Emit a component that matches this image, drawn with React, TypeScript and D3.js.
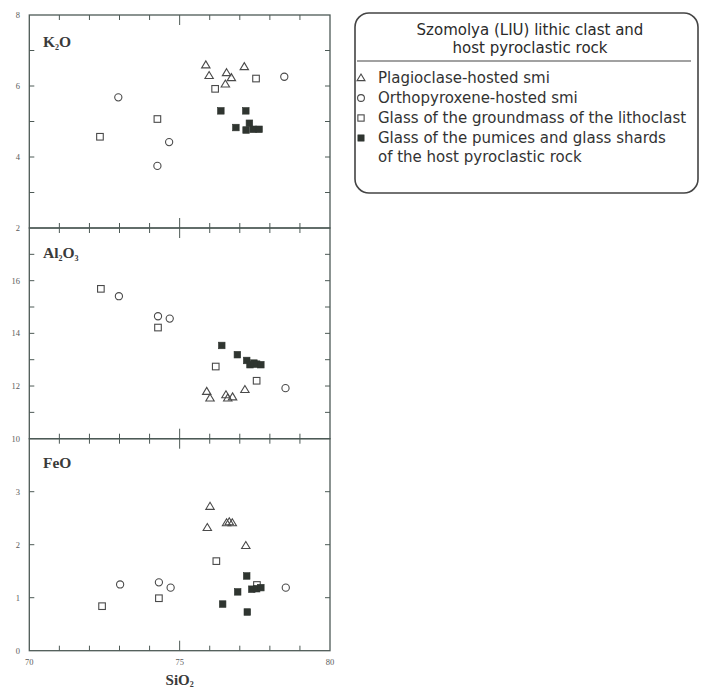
import React from "react";
import * as d3 from "d3";

type P = [number, number];

// K2O panel
const k2oPlag: P[] = [[75.87, 6.59], [75.98, 6.29], [76.56, 6.37], [76.72, 6.23], [76.52, 6.05], [77.15, 6.54]];
const k2oOpx: P[] = [[72.96, 5.68], [74.65, 4.42], [74.26, 3.75], [78.48, 6.26]];
const k2oGlassLith: P[] = [[72.35, 4.57], [74.26, 5.07], [76.18, 5.92], [77.54, 6.21]];
const k2oGlassHost: P[] = [[76.37, 5.3], [77.2, 5.3], [76.87, 4.83], [77.32, 4.95], [77.21, 4.76], [77.45, 4.78], [77.64, 4.78]];

// Al2O3 panel
const alPlag: P[] = [[75.9, 11.79], [76.01, 11.54], [76.54, 11.66], [76.6, 11.54], [76.76, 11.58], [77.17, 11.86]];
const alOpx: P[] = [[72.98, 15.41], [74.28, 14.65], [74.67, 14.56], [78.52, 11.92]];
const alGlassLith: P[] = [[72.38, 15.69], [74.28, 14.22], [76.2, 12.74], [77.56, 12.2]];
const alGlassHost: P[] = [[76.4, 13.54], [76.92, 13.19], [77.23, 12.97], [77.34, 12.81], [77.47, 12.87], [77.56, 12.83], [77.7, 12.81]];

// FeO panel
const feoPlag: P[] = [[76.01, 2.72], [75.92, 2.32], [76.56, 2.41], [76.65, 2.43], [76.75, 2.41], [77.2, 1.98]];
const feoOpx: P[] = [[73.02, 1.25], [74.31, 1.29], [74.7, 1.19], [78.53, 1.19]];
const feoGlassLith: P[] = [[72.42, 0.84], [74.31, 0.99], [76.22, 1.69], [77.57, 1.24]];
const feoGlassHost: P[] = [[77.23, 1.41], [76.93, 1.11], [76.43, 0.88], [77.25, 0.73], [77.4, 1.16], [77.56, 1.17], [77.7, 1.19]];

const xTicks = [71, 72, 73, 74, 75, 76, 77, 78, 79];
const xLabels = [70, 75, 80];

const legendTitle = ["Szomolya (LIU) lithic clast and", "host pyroclastic rock"];
const legendItems = [
  { sym: "tri", lines: ["Plagioclase-hosted smi"] },
  { sym: "circ", lines: ["Orthopyroxene-hosted smi"] },
  { sym: "sq", lines: ["Glass of the groundmass of the lithoclast"] },
  { sym: "fsq", lines: ["Glass of the pumices and glass shards", "of the host pyroclastic rock"] },
];

const FRAME = "#4d5a56";
const MARK = "#4a4a4a";
const FILL = "#2f3530";
const LABEL = "#5a5a5a";

const x = d3.scaleLinear().domain([70, 80]).range([29.3, 330]);

interface PanelDef {
  name: string;
  sub: React.ReactNode;
  domain: [number, number];
  range: [number, number];
  ticks: number[];
  labels: number[];
  data: { plag: P[]; opx: P[]; lith: P[]; host: P[] };
  labelY: number;
}

function Marker({ kind, cx, cy, s = 1 }: { kind: string; cx: number; cy: number; s?: number }) {
  if (kind === "tri") {
    const h = 7 * s, w = 8.4 * s;
    const path = d3.path();
    path.moveTo(cx, cy - h * 0.6);
    path.lineTo(cx + w / 2, cy + h * 0.4);
    path.lineTo(cx - w / 2, cy + h * 0.4);
    path.closePath();
    return <path d={path.toString()} fill="none" stroke={MARK} strokeWidth={1.1} />;
  }
  if (kind === "circ") return <circle cx={cx} cy={cy} r={3.6 * s} fill="none" stroke={MARK} strokeWidth={1.1} />;
  if (kind === "sq") {
    const a = 6.6 * s;
    return <rect x={cx - a / 2} y={cy - a / 2} width={a} height={a} fill="none" stroke={MARK} strokeWidth={1.1} />;
  }
  const a = 6.6 * s;
  return <rect x={cx - a / 2} y={cy - a / 2} width={a} height={a} fill={FILL} stroke={FILL} strokeWidth={0.6} />;
}

function Panel({ p }: { p: PanelDef }) {
  const y = d3.scaleLinear().domain(p.domain).range(p.range);
  const [x0, x1] = x.range();
  const yb = p.range[0], yt = p.range[1];
  const tl = 5;
  return (
    <g>
      <rect x={x0} y={yt} width={x1 - x0} height={yb - yt} fill="none" stroke={FRAME} strokeWidth={1.3} />
      {xTicks.map((t) => {
        const L = t === 75 ? 10 : tl;
        return (
          <g key={t}>
            <line x1={x(t)} x2={x(t)} y1={yb} y2={yb - L} stroke={FRAME} strokeWidth={1} />
            <line x1={x(t)} x2={x(t)} y1={yt} y2={yt + L} stroke={FRAME} strokeWidth={1} />
          </g>
        );
      })}
      {p.ticks.map((t) => (
        <g key={t}>
          <line x1={x0} x2={x0 + tl} y1={y(t)} y2={y(t)} stroke={FRAME} strokeWidth={1} />
          <line x1={x1} x2={x1 - tl} y1={y(t)} y2={y(t)} stroke={FRAME} strokeWidth={1} />
        </g>
      ))}
      {p.labels.map((t) => (
        <text key={t} x={20} y={y(t) + 3} textAnchor="end" fontSize={8.5} fill={LABEL} fontFamily="Liberation Serif, serif">
          {t}
        </text>
      ))}
      <text x={43} y={p.labelY} fontSize={15.5} fontWeight="bold" fill="#3a3a3a" fontFamily="Liberation Serif, serif">
        {p.sub}
      </text>
      {p.data.lith.map((d, i) => <Marker key={"l" + i} kind="sq" cx={x(d[0])} cy={y(d[1])} />)}
      {p.data.opx.map((d, i) => <Marker key={"o" + i} kind="circ" cx={x(d[0])} cy={y(d[1])} />)}
      {p.data.plag.map((d, i) => <Marker key={"p" + i} kind="tri" cx={x(d[0])} cy={y(d[1])} />)}
      {p.data.host.map((d, i) => <Marker key={"h" + i} kind="fsq" cx={x(d[0])} cy={y(d[1])} />)}
    </g>
  );
}

const panels: PanelDef[] = [
  {
    name: "K2O",
    sub: (<><tspan>K</tspan><tspan fontSize={8} dy={3}>2</tspan><tspan dy={-3}>O</tspan></>),
    domain: [2, 8], range: [228, 15], ticks: [3, 4, 5, 6, 7], labels: [2, 4, 6, 8],
    data: { plag: k2oPlag, opx: k2oOpx, lith: k2oGlassLith, host: k2oGlassHost }, labelY: 47,
  },
  {
    name: "Al2O3",
    sub: (<><tspan>Al</tspan><tspan fontSize={8} dy={3}>2</tspan><tspan dy={-3}>O</tspan><tspan fontSize={8} dy={3}>3</tspan></>),
    domain: [10, 18], range: [438.7, 228], ticks: [11, 12, 13, 14, 15, 16, 17], labels: [10, 12, 14, 16],
    data: { plag: alPlag, opx: alOpx, lith: alGlassLith, host: alGlassHost }, labelY: 258,
  },
  {
    name: "FeO",
    sub: "FeO",
    domain: [0, 4], range: [650.7, 438.7], ticks: [1, 2, 3], labels: [0, 1, 2, 3],
    data: { plag: feoPlag, opx: feoOpx, lith: feoGlassLith, host: feoGlassHost }, labelY: 468,
  },
];

export default function App() {
  const lx = 355, ly = 13, lw = 343, lh = 180;
  const LF = "DejaVu Sans, sans-serif";
  return (
    <div style={{ position: "absolute", left: 0, top: 0 }}>
      <svg width={701} height={691} style={{ display: "block", background: "#fff" }}>
        {panels.map((p) => <Panel key={p.name} p={p} />)}
        {xLabels.map((t) => (
          <text key={t} x={x(t)} y={665} textAnchor="middle" fontSize={8.5} fill={LABEL} fontFamily="Liberation Serif, serif">
            {t}
          </text>
        ))}
        <text x={x(75)} y={685} textAnchor="middle" fontSize={15} fontWeight="bold" fill="#3a3a3a" fontFamily="Liberation Serif, serif">
          SiO<tspan fontSize={8} dy={2}>2</tspan>
        </text>

        <rect x={lx} y={ly} width={lw} height={lh} rx={14} ry={14} fill="none" stroke="#444" strokeWidth={1.6} />
        {legendTitle.map((t, i) => (
          <text key={i} x={530} y={35 + i * 18} textAnchor="middle" fontSize={15} fill="#2a2a2a" fontFamily={LF}>
            {t}
          </text>
        ))}
        <line x1={357} x2={691} y1={61} y2={61} stroke="#444" strokeWidth={1.2} />
        {legendItems.map((it, i) => {
          const cy = 78 + i * 20;
          return (
            <g key={i}>
              <Marker kind={it.sym} cx={361} cy={cy} s={0.95} />
              {it.lines.map((l, j) => (
                <text key={j} x={378} y={cy + 5 + j * 19} fontSize={15} fill="#333" fontFamily={LF}>
                  {l}
                </text>
              ))}
            </g>
          );
        })}
      </svg>
    </div>
  );
}
